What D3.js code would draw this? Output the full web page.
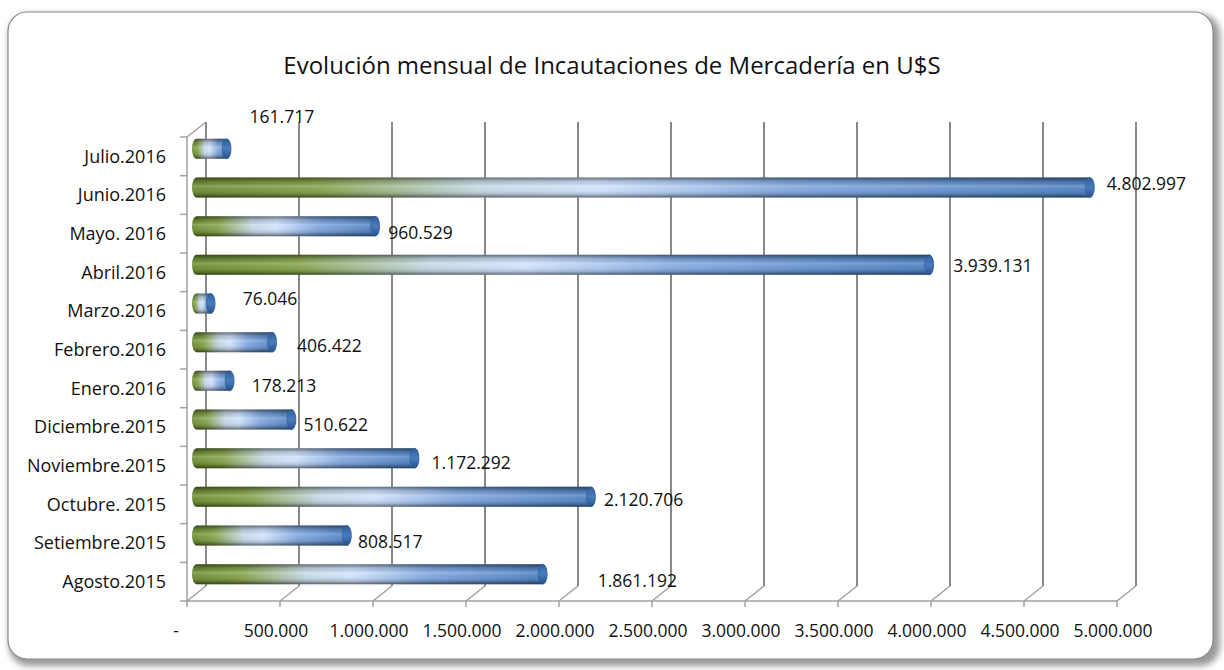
<!DOCTYPE html>
<html>
<head>
<meta charset="utf-8">
<script src="https://cdn.jsdelivr.net/npm/d3@7"></script>
<style>
  html, body { margin: 0; padding: 0; background: #fff; }
  svg text { font-family: "Open Sans", "Noto Sans", sans-serif; fill: #111; }
</style>
</head>
<body>
<div id="chart"></div>
<script>
// data, oldest month first
const months = ["Agosto.2015", "Setiembre.2015", "Octubre. 2015", "Noviembre.2015",
  "Diciembre.2015", "Enero.2016", "Febrero.2016", "Marzo.2016", "Abril.2016",
  "Mayo. 2016", "Junio.2016", "Julio.2016"];
const amounts = [1861192, 808517, 2120706, 1172292, 510622, 178213, 406422,
  76046, 3939131, 960529, 4802997, 161717];
const tickValues = [0, 500000, 1000000, 1500000, 2000000, 2500000, 3000000,
  3500000, 4000000, 4500000, 5000000];

// label nudges (px) the way Excel placed them, same order as months
const labelShift = [[55, -1], [11, -1], [13, -5], [17, -3], [12, -2], [22, -3],
  [25, -4], [32, -12], [24, -7], [13, -1], [17, -11], [23, -40]];

const width = 1224, height = 670;
// 3d depth of the plot box
const depthX = 19, depthY = -15;

const svg = d3.select("#chart").append("svg")
  .attr("width", width)
  .attr("height", height);

const defs = svg.append("defs");

// frame shadow
const shadow = defs.append("filter").attr("id", "frameShadow")
  .attr("x", "-5%").attr("y", "-5%").attr("width", "110%").attr("height", "110%");
shadow.append("feGaussianBlur").attr("stdDeviation", 3);

// bar colour: green -> pale blue -> blue along the bar
const barGrad = defs.append("linearGradient").attr("id", "barGrad")
  .attr("x1", 0).attr("x2", 1).attr("y1", 0).attr("y2", 0);
[[0, "#6b8a30"], [0.14, "#84a048"], [0.32, "#c4d6e4"], [0.45, "#cfe1fb"],
 [0.66, "#7fa6dd"], [1, "#4a7cbd"]].forEach(s =>
  barGrad.append("stop").attr("offset", s[0]).attr("stop-color", s[1]));

// round shading across the cylinder
const shade = defs.append("linearGradient").attr("id", "barShade")
  .attr("x1", 0).attr("x2", 0).attr("y1", 0).attr("y2", 1);
[[0, "#000", 0.5], [0.2, "#000", 0.12], [0.42, "#fff", 0.2],
 [0.6, "#fff", 0.05], [0.85, "#000", 0.18], [1, "#000", 0.55]].forEach(s =>
  shade.append("stop").attr("offset", s[0]).attr("stop-color", s[1]).attr("stop-opacity", s[2]));

const capGrad = defs.append("linearGradient").attr("id", "capGrad")
  .attr("x1", 0).attr("x2", 0).attr("y1", 0).attr("y2", 1);
[[0, "#2f5e9c"], [0.5, "#4a7cbd"], [1, "#24508a"]].forEach(s =>
  capGrad.append("stop").attr("offset", s[0]).attr("stop-color", s[1]));

// outer rounded frame
svg.append("rect")
  .attr("x", 9).attr("y", 14).attr("width", 1211).attr("height", 652)
  .attr("rx", 20).attr("fill", "#9a9a9a")
  .attr("filter", "url(#frameShadow)");
svg.append("rect")
  .attr("x", 8).attr("y", 12).attr("width", 1205).attr("height", 647)
  .attr("rx", 19).attr("fill", "#fff")
  .attr("stroke", "#8a8a8a").attr("stroke-width", 1.2);

// title
svg.append("text")
  .attr("x", 612).attr("y", 74)
  .attr("text-anchor", "middle")
  .style("font-size", "24px")
  .text("Evolución mensual de Incautaciones de Mercadería en U$S");

// scales
const x = d3.scaleLinear().domain([0, 5000000]).range([187, 1117]);
const y = d3.scaleBand().domain(months.slice().reverse()).range([137, 601]);

const fmt = v => v === 0 ? "-" : d3.format(",")(v).replace(/,/g, ".");

const grid = svg.append("g");

// back wall gridlines
grid.selectAll(".gl").data(tickValues).join("line")
  .attr("x1", d => x(d) + depthX).attr("x2", d => x(d) + depthX)
  .attr("y1", 137 + depthY).attr("y2", 601 + depthY)
  .attr("stroke", "#888").attr("stroke-width", 2);

// floor slants
grid.selectAll(".fl").data(tickValues).join("line")
  .attr("x1", d => x(d)).attr("x2", d => x(d) + depthX)
  .attr("y1", 601).attr("y2", 601 + depthY)
  .attr("stroke", "#a0a0a0").attr("stroke-width", 1.5);

// left wall top slant
grid.append("line")
  .attr("x1", x(0)).attr("x2", x(0) + depthX)
  .attr("y1", 137).attr("y2", 137 + depthY)
  .attr("stroke", "#a0a0a0").attr("stroke-width", 1.5);

// front axis lines
grid.append("line")
  .attr("x1", x(0)).attr("x2", x(5000000))
  .attr("y1", 601).attr("y2", 601)
  .attr("stroke", "#a0a0a0").attr("stroke-width", 1.5);
grid.append("line")
  .attr("x1", x(0)).attr("x2", x(0))
  .attr("y1", 137).attr("y2", 601)
  .attr("stroke", "#a0a0a0").attr("stroke-width", 1.5);

// value axis ticks + labels
grid.selectAll(".xt").data(tickValues).join("line")
  .attr("x1", d => x(d)).attr("x2", d => x(d))
  .attr("y1", 601).attr("y2", 607)
  .attr("stroke", "#a0a0a0").attr("stroke-width", 1.5);
svg.selectAll(".xl").data(tickValues).join("text")
  .attr("x", d => d === 0 ? x(d) - 11 : x(d) - 4)
  .attr("y", 637)
  .attr("text-anchor", "middle")
  .style("font-size", "17.5px")
  .text(fmt);

// category ticks + labels
const bounds = months.map(m => y(m)).concat([601]);
grid.selectAll(".yt").data(bounds).join("line")
  .attr("x1", x(0) - 7).attr("x2", x(0))
  .attr("y1", d => d).attr("y2", d => d)
  .attr("stroke", "#a0a0a0").attr("stroke-width", 1.5);
svg.selectAll(".yl").data(months).join("text")
  .attr("x", 166)
  .attr("y", d => y(d) + y.bandwidth() / 2)
  .attr("dy", "0.36em")
  .attr("text-anchor", "end")
  .style("font-size", "18px")
  .text(d => d);

// bars as cylinders sitting half way into the depth
const barH = 20, capR = 4.5;
const rows = months.map((m, i) => ({ m, v: amounts[i], shift: labelShift[i] }));
const bars = svg.append("g").selectAll("g").data(rows).join("g")
  .attr("transform", d => `translate(${depthX / 2},${y(d.m) + y.bandwidth() / 2 + depthY / 2 - barH / 2})`);

bars.append("rect")
  .attr("x", d => x(0) - capR)
  .attr("width", d => x(d.v) - x(0) + 2 * capR)
  .attr("height", barH)
  .attr("rx", capR).attr("ry", barH / 2)
  .attr("fill", "url(#barGrad)");
bars.append("rect")
  .attr("x", d => x(0) - capR)
  .attr("width", d => x(d.v) - x(0) + 2 * capR)
  .attr("height", barH)
  .attr("rx", capR).attr("ry", barH / 2)
  .attr("fill", "url(#barShade)");
bars.append("ellipse")
  .attr("cx", d => x(d.v))
  .attr("cy", barH / 2)
  .attr("rx", capR).attr("ry", barH / 2)
  .attr("fill", "url(#capGrad)")
  .attr("stroke", "#2c5a95").attr("stroke-width", 0.6);

// value labels
bars.append("text")
  .attr("x", d => x(d.v) + d.shift[0])
  .attr("y", d => barH / 2 - depthY / 2 + d.shift[1])
  .attr("dy", "0.36em")
  .style("font-size", "17.5px")
  .text(d => fmt(d.v));
</script>
</body>
</html>
